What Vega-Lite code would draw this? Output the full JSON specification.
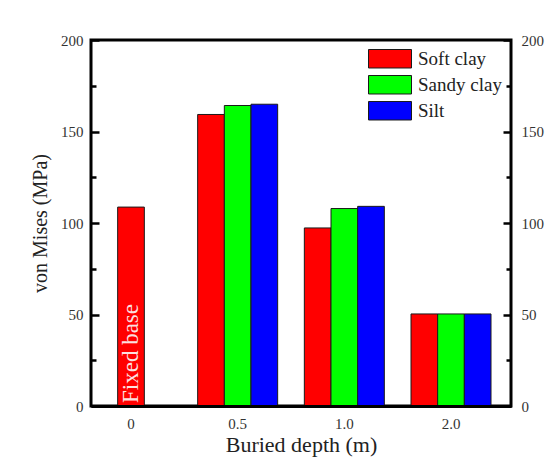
{
  "$schema": "https://vega.github.io/schema/vega-lite/v6.json",
  "width": 420,
  "height": 366,
  "autosize": {"type": "none"},
  "padding": {"left": 91, "top": 40, "right": 42, "bottom": 60},
  "background": "white",
  "config": {
    "font": "Liberation Serif",
    "view": {"stroke": "black", "strokeWidth": 3},
    "axis": {"grid": false, "labelFont": "Liberation Serif", "titleFont": "Liberation Serif"},
    "legend": {"labelFont": "Liberation Serif"}
  },
  "data": {
    "values": [
      {"depth": "0", "soil": "Soft clay", "mises": 108.7},
      {"depth": "0.5", "soil": "Soft clay", "mises": 159.3},
      {"depth": "0.5", "soil": "Sandy clay", "mises": 164.2},
      {"depth": "0.5", "soil": "Silt", "mises": 164.9},
      {"depth": "1.0", "soil": "Soft clay", "mises": 97.3},
      {"depth": "1.0", "soil": "Sandy clay", "mises": 107.9},
      {"depth": "1.0", "soil": "Silt", "mises": 109.1},
      {"depth": "2.0", "soil": "Soft clay", "mises": 50.3},
      {"depth": "2.0", "soil": "Sandy clay", "mises": 50.3},
      {"depth": "2.0", "soil": "Silt", "mises": 50.3}
    ]
  },
  "layer": [
    {
      "transform": [{"filter": "datum.depth === '0.5'"}],
      "mark": {"type": "bar", "stroke": "#1a1a1a", "strokeWidth": 1},
      "encoding": {
        "x": {
          "field": "depth", "type": "nominal",
          "scale": {"domain": ["0", "0.5", "1.0", "2.0"], "paddingInner": 0.25, "paddingOuter": 0.09375, "align": 0},
          "axis": {
            "title": "Buried depth (m)", "titleFontSize": 22, "titleFontWeight": "normal", "titleColor": "#222", "titlePadding": 3,
            "labelAngle": 0, "labelFontSize": 15, "labelColor": "#333", "labelPadding": 10,
            "ticks": false, "domainColor": "black", "domainWidth": 3, "zindex": 1
          }
        },
        "xOffset": {
          "field": "soil", "type": "nominal",
          "scale": {"domain": ["Soft clay", "Sandy clay", "Silt"], "paddingInner": 0, "paddingOuter": 0}
        },
        "y": {
          "field": "mises", "type": "quantitative",
          "scale": {"domain": [0, 200], "nice": false},
          "axis": {
            "orient": "left", "offset": -8,
            "title": "von Mises (MPa)", "titleFontSize": 20, "titleFontWeight": "normal", "titleColor": "#222", "titlePadding": 10,
            "values": [0, 50, 100, 150, 200],
            "labelFontSize": 15, "labelColor": "#333", "labelPadding": 8,
            "ticks": true, "tickColor": "#000000", "tickWidth": 2.5, "tickSize": 8,
            "domain": false, "zindex": 2
          }
        },
        "color": {
          "field": "soil", "type": "nominal",
          "scale": {"domain": ["Soft clay", "Sandy clay", "Silt"], "range": ["#ff0000", "#00ff00", "#0000ff"]},
          "legend": {
            "title": null, "orient": "none", "legendX": 277, "legendY": 6,
            "symbolType": "M-1,-0.43H1V0.43H-1Z", "symbolSize": 1849,
            "symbolStrokeColor": "#1a1a1a", "symbolStrokeWidth": 1, "symbolOpacity": 1,
            "labelFont": "Liberation Serif", "labelFontSize": 19, "labelColor": "#222", "labelOffset": 6,
            "clipHeight": 25.5, "rowPadding": 0, "padding": 0
          }
        }
      }
    },
    {
      "transform": [{"filter": "datum.depth === '1.0' || datum.depth === '2.0'"}],
      "mark": {"type": "bar", "stroke": "#1a1a1a", "strokeWidth": 1},
      "encoding": {
        "x": {"field": "depth", "type": "nominal"},
        "xOffset": {"field": "soil", "type": "nominal"},
        "y": {
          "field": "mises", "type": "quantitative",
          "axis": {
            "orient": "left", "offset": -5, "title": null,
            "values": [25, 75, 125, 175], "labels": false,
            "ticks": true, "tickColor": "#000000", "tickWidth": 2.5, "tickSize": 5,
            "domain": false, "zindex": 2
          }
        },
        "color": {"field": "soil", "type": "nominal"}
      }
    },
    {
      "transform": [{"filter": "datum.depth === '0'"}],
      "mark": {"type": "bar", "stroke": "#1a1a1a", "strokeWidth": 1, "width": {"band": 0.3333}},
      "encoding": {
        "x": {"field": "depth", "type": "nominal"},
        "y": {
          "field": "mises", "type": "quantitative",
          "axis": {
            "orient": "right", "offset": -8, "title": null,
            "values": [0, 50, 100, 150, 200],
            "labelFontSize": 15, "labelColor": "#333", "labelPadding": 10,
            "ticks": true, "tickColor": "#000000", "tickWidth": 2.5, "tickSize": 8,
            "domain": false, "zindex": 2
          }
        },
        "color": {"field": "soil", "type": "nominal", "legend": null}
      }
    },
    {
      "data": {"values": [{"depth": "0", "note": "Fixed base", "base": 0}]},
      "mark": {"type": "text", "angle": 270, "align": "left", "baseline": "middle", "dx": 3, "fontSize": 23, "color": "#fbe0e0", "font": "Liberation Serif"},
      "encoding": {
        "x": {"field": "depth", "type": "nominal"},
        "y": {
          "field": "base", "type": "quantitative",
          "axis": {
            "orient": "right", "offset": -5, "title": null,
            "values": [25, 75, 125, 175], "labels": false,
            "ticks": true, "tickColor": "#000000", "tickWidth": 2.5, "tickSize": 5,
            "domain": false, "zindex": 2
          }
        },
        "text": {"field": "note"}
      }
    }
  ],
  "resolve": {"axis": {"y": "independent"}}
}
